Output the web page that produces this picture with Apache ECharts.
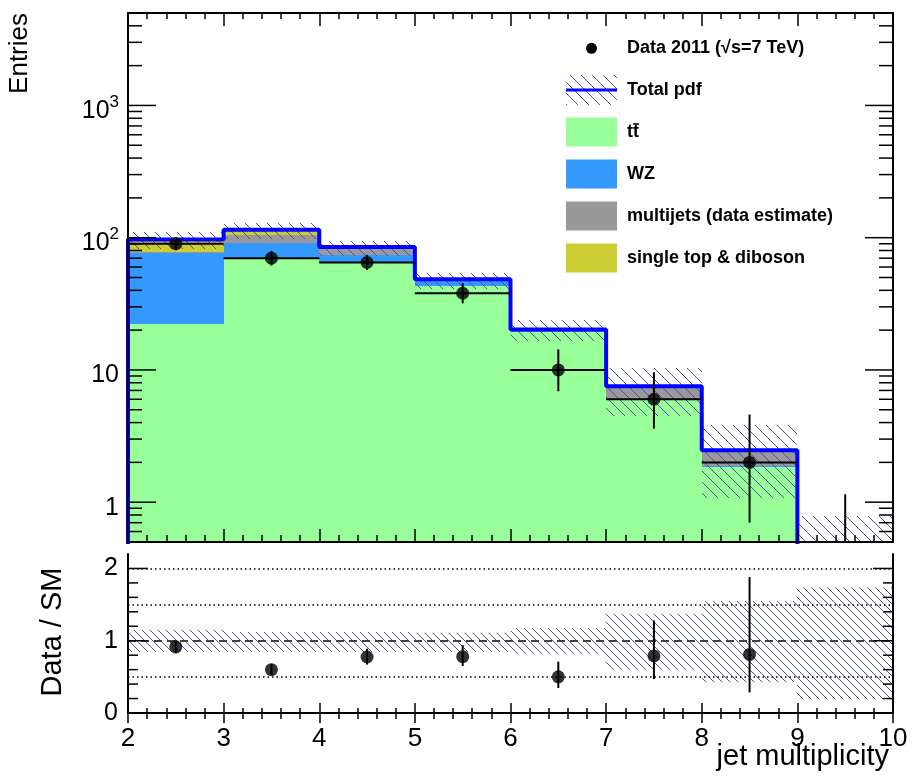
<!DOCTYPE html>
<html><head><meta charset="utf-8">
<script src="https://cdn.jsdelivr.net/npm/echarts@6/dist/echarts.min.js"></script>
<style>html,body{margin:0;padding:0;background:#fff}#c{width:914px;height:779px}</style>
</head><body><div id="c"></div>
<script>
// ---------- data ----------
const binEdges   = [2, 3, 4, 5, 6, 7, 8, 9, 10];
const ttbar      = [22.2, 69.5, 65.5, 42.9, 19.4, 5.97, 1.85, 0.40];
const wz         = [54.4, 21.7, 8.1, 3.9, 0.6, 0.04, 0.02, 0];
const multijets  = [1.2, 13.1, 8.1, 1.0, 0.1, 1.5, 0.6, 0.05];
const singleTop  = [19.0, 10.7, 3.3, 0.7, 0.1, 0.02, 0.0, 0];
const dataCounts = [90, 70, 65, 38, 10, 6, 2, 0];
const dataErrLow = [9.5, 8.4, 8.1, 6.1, 3.1, 2.4, 1.3, 0];
const dataErrHigh= [10.5, 9.4, 9.1, 7.2, 4.3, 3.6, 2.6, 1.15];
const bandUp     = [1.143, 1.115, 1.115, 1.11, 1.18, 1.37, 1.55, 1.74];
const bandDown   = [0.85, 0.85, 0.85, 0.85, 0.82, 0.60, 0.435, 0.20];
const ratio      = [0.915, 0.60, 0.775, 0.78, 0.50, 0.79, 0.81, null];
const ratioErrLow  = [0.09, 0.07, 0.105, 0.13, 0.155, 0.32, 0.525, 0];
const ratioErrHigh = [0.09, 0.08, 0.115, 0.16, 0.21, 0.49, 1.07, 0];
const legendLabels = ['Data 2011 (\u221As=7 TeV)', 'Total pdf', 'tt', 'WZ', 'multijets (data estimate)', 'single top & diboson'];
const xLabel = 'jet multiplicity', yLabelTop = 'Entries', yLabelBottom = 'Data / SM';

// ---------- style ----------
const FONT = '"Liberation Sans", Arial, Helvetica, sans-serif';
const C_TT = '#99ff99', C_WZ = '#3399ff', C_MJ = '#999999', C_ST = '#cccc33', C_LINE = '#0000ff';
const HATCH_COL = '#5050a8';

function hatch(step) {
  const c = document.createElement('canvas');
  c.width = step; c.height = step;
  const g = c.getContext('2d');
  g.strokeStyle = HATCH_COL; g.lineWidth = 1;
  g.beginPath();
  g.moveTo(-2, -2); g.lineTo(step + 2, step + 2);
  g.moveTo(-2, step - 2); g.lineTo(2, step + 2);
  g.moveTo(step - 2, -2); g.lineTo(step + 2, 2);
  g.stroke();
  return {image: c, repeat: 'repeat'};
}
const hatchTop = hatch(11), hatchBot = hatch(8);

const nb = ttbar.length;
const xMin = binEdges[0], xMax = binEdges[nb];
const yTopMin = 0.5, yTopMax = 5000, yBotMin = 0, yBotMax = 2.2;
const total = ttbar.map((v, i) => v + wz[i] + multijets[i] + singleTop[i]);
const centers = ttbar.map((v, i) => (binEdges[i] + binEdges[i + 1]) / 2);

// stacked rectangles
const layers = [ttbar, wz, multijets, singleTop];
const layerRects = layers.map(() => []);
for (let i = 0; i < nb; i++) {
  let base = 0;
  layers.forEach((arr, k) => {
    const lo = base, hi = base + arr[i];
    if (arr[i] > 0) layerRects[k].push([binEdges[i], binEdges[i + 1], Math.max(lo, 1e-3), hi]);
    base = hi;
  });
}
const topBand = total.map((t, i) => [binEdges[i], binEdges[i + 1], Math.max(t * bandDown[i], 1e-3), t * bandUp[i]]);
const botBand = total.map((t, i) => [binEdges[i], binEdges[i + 1], bandDown[i], bandUp[i]]);
const lineData = [[binEdges[0], 1e-3]];
for (let i = 0; i < nb; i++) lineData.push([binEdges[i], total[i]]);
lineData.push([binEdges[nb], total[nb - 1]]);

const dataErr = dataCounts.map((v, i) => [centers[i], v, dataErrLow[i], dataErrHigh[i], binEdges[i], binEdges[i + 1]]);
const dataPts = dataCounts.map((v, i) => v > 0 ? [centers[i], v] : null).filter(Boolean);
const ratioPts = ratio.map((v, i) => v != null ? [centers[i], v] : null).filter(Boolean);
const ratioErr = ratio.map((v, i) => v != null ? [centers[i], v, ratioErrLow[i], ratioErrHigh[i]] : null).filter(Boolean);

// tick lists (axis ticks drawn through the axes' own scale)
const logTicks = [];
[0.1, 1, 10, 100, 1000].forEach(d => { for (let m = 1; m <= 9; m++) { const v = m * d; if (v > yTopMin * 0.999 && v < yTopMax * 1.001) logTicks.push([xMin, v, m === 1 ? 1 : 0]); } });
const linTicks = [];
for (let i = 0; i <= 10; i++) linTicks.push([xMin, i * 0.2, i % 5 === 0 ? 1 : 0]);

function rectRenderer(fill) {
  return function (params, api) {
    const a = api.coord([api.value(0), api.value(3)]);
    const b = api.coord([api.value(1), api.value(2)]);
    const x0 = Math.round(a[0]), x1 = Math.round(b[0]);
    const y0 = Math.round(a[1]), y1 = Math.round(b[1]);
    return {type: 'rect', shape: {x: x0, y: y0, width: x1 - x0, height: y1 - y0}, style: {fill: fill, stroke: null}, silent: true};
  };
}
function tickRenderer(lenMajor, lenMinor) {
  return function (params, api) {
    const v = api.value(1), major = api.value(2) === 1;
    const L = major ? lenMajor : lenMinor;
    const pL = api.coord([xMin, v]), pR = api.coord([xMax, v]);
    const st = {stroke: '#000', lineWidth: 1.5};
    return {type: 'group', children: [
      {type: 'line', shape: {x1: pL[0], y1: pL[1], x2: pL[0] + L, y2: pL[1]}, style: st},
      {type: 'line', shape: {x1: pR[0], y1: pR[1], x2: pR[0] - L, y2: pR[1]}, style: st}
    ]};
  };
}
function errRenderer(withH) {
  return function (params, api) {
    const xc = api.value(0), y = api.value(1), lo = api.value(2), hi = api.value(3);
    const ylo = Math.max(y - lo, 1e-3);
    const p1 = api.coord([xc, y + hi]), p2 = api.coord([xc, ylo]);
    const st = {stroke: '#000', lineWidth: 2};
    const ch = [{type: 'line', shape: {x1: p1[0], y1: p1[1], x2: p2[0], y2: p2[1]}, style: st}];
    if (withH && y > 0) {
      const a = api.coord([api.value(4), y]), b = api.coord([api.value(5), y]);
      ch.push({type: 'line', shape: {x1: a[0], y1: a[1], x2: b[0], y2: b[1]}, style: st});
    }
    return {type: 'group', children: ch};
  };
}

const axisLineStyle = {show: true, lineStyle: {color: '#000', width: 2}};
function xAx(gi, pos, showLabel, major, minor) {
  return {type: 'value', gridIndex: gi, position: pos, min: xMin, max: xMax, interval: 1, z: 10,
    axisLine: axisLineStyle, splitLine: {show: false},
    axisTick: {show: true, inside: true, length: major, lineStyle: {color: '#000', width: 1.5}},
    minorTick: {show: true, splitNumber: 5, length: minor, lineStyle: {color: '#000', width: 1.5}},
    axisLabel: {show: showLabel, color: '#000', fontSize: 26, fontFamily: FONT, margin: 13}};
}
const isDecade = v => Math.abs(Math.log10(v) - Math.round(Math.log10(v))) < 1e-6;

const option = {
  animation: false,
  backgroundColor: '#fff',
  grid: [
    {left: 128, width: 765, top: 13, height: 529, containLabel: false, outerBoundsMode: 'none'},
    {left: 128, width: 765, top: 554, height: 159, containLabel: false, outerBoundsMode: 'none'}
  ],
  xAxis: [xAx(0, 'bottom', false, 13, 7), xAx(0, 'top', false, 13, 6), xAx(1, 'bottom', true, 10, 5), xAx(1, 'top', false, 10, 6)],
  yAxis: [
    {type: 'log', logBase: 10, gridIndex: 0, position: 'left', min: yTopMin, max: yTopMax, z: 10,
      axisLine: axisLineStyle, axisTick: {show: false}, splitLine: {show: false}, minorTick: {show: false},
      axisLabel: {color: '#000', margin: 9, showMinLabel: false, showMaxLabel: false, padding: [6, 0, 0, 0],
        formatter: v => {
          if (!isDecade(v)) return '';
          const e = Math.round(Math.log10(v));
          if (e === 0) return '{b|1}';
          if (e === 1) return '{b|10}';
          return '{b|10}{s|' + e + '}';
        },
        rich: {b: {fontSize: 25, fontFamily: FONT, color: '#000', lineHeight: 30, verticalAlign: 'bottom'},
               s: {fontSize: 17, fontFamily: FONT, color: '#000', lineHeight: 17, verticalAlign: 'top'}}}},
    {type: 'log', logBase: 10, gridIndex: 0, position: 'right', min: yTopMin, max: yTopMax, z: 10,
      axisLine: axisLineStyle, axisTick: {show: false}, splitLine: {show: false}, axisLabel: {show: false}},
    {type: 'value', gridIndex: 1, position: 'left', min: yBotMin, max: yBotMax, interval: 1, z: 10,
      axisLine: axisLineStyle, axisTick: {show: false}, splitLine: {show: false},
      axisLabel: {color: '#000', fontSize: 25, fontFamily: FONT, margin: 10, showMaxLabel: false, padding: [6, 0, 0, 0],
        formatter: v => (Math.abs(v - Math.round(v)) < 1e-6 ? String(Math.round(v)) : '')}},
    {type: 'value', gridIndex: 1, position: 'right', min: yBotMin, max: yBotMax, interval: 1, z: 10,
      axisLine: axisLineStyle, axisTick: {show: false}, splitLine: {show: false}, axisLabel: {show: false}}
  ],
  series: [
    ...[C_TT, C_WZ, C_MJ, C_ST].map((col, k) => ({
      type: 'custom', xAxisIndex: 0, yAxisIndex: 0, z: 2, clip: true, silent: true,
      renderItem: rectRenderer(col), encode: {x: [0, 1], y: [2, 3]}, data: layerRects[k]})),
    {type: 'custom', xAxisIndex: 0, yAxisIndex: 0, z: 3, clip: true, silent: true,
      renderItem: rectRenderer(hatchTop), encode: {x: [0, 1], y: [2, 3]}, data: topBand},
    {type: 'line', xAxisIndex: 0, yAxisIndex: 0, z: 4, step: 'end', symbol: 'none', clip: true, silent: true,
      lineStyle: {color: C_LINE, width: 4}, data: lineData},
    {type: 'custom', xAxisIndex: 0, yAxisIndex: 0, z: 5, clip: true, silent: true,
      renderItem: errRenderer(true), encode: {x: 0, y: 1}, data: dataErr},
    {type: 'scatter', xAxisIndex: 0, yAxisIndex: 0, z: 6, symbol: 'circle', symbolSize: 13, silent: true,
      itemStyle: {color: '#000'}, data: dataPts},
    {type: 'custom', xAxisIndex: 0, yAxisIndex: 0, z: 11, clip: false, silent: true,
      renderItem: tickRenderer(28, 14), encode: {x: 0, y: 1}, data: logTicks},
    // ratio panel
    {type: 'custom', xAxisIndex: 2, yAxisIndex: 2, z: 2, clip: true, silent: true,
      renderItem: rectRenderer(hatchBot), encode: {x: [0, 1], y: [2, 3]}, data: botBand},
    {type: 'custom', xAxisIndex: 2, yAxisIndex: 2, z: 5, clip: true, silent: true,
      renderItem: errRenderer(false), encode: {x: 0, y: 1}, data: ratioErr},
    {type: 'scatter', xAxisIndex: 2, yAxisIndex: 2, z: 6, symbol: 'circle', symbolSize: 13, silent: true,
      itemStyle: {color: '#000'}, data: ratioPts,
      markLine: {silent: true, symbol: 'none', label: {show: false}, animation: false,
        data: [
          {yAxis: 0.5, lineStyle: {type: [1.5, 3], color: '#000', width: 1.5}},
          {yAxis: 1.5, lineStyle: {type: [1.5, 3], color: '#000', width: 1.5}},
          {yAxis: 2.0, lineStyle: {type: [1.5, 3], color: '#000', width: 1.5}},
          {yAxis: 1.0, lineStyle: {type: [8, 5], color: '#444', width: 2}}
        ]}},
    {type: 'custom', xAxisIndex: 2, yAxisIndex: 2, z: 11, clip: false, silent: true,
      renderItem: tickRenderer(20, 10), encode: {x: 0, y: 1}, data: linTicks}
  ],
  graphic: (function () {
    const g = [];
    const txt = (x, y, text, opts) => Object.assign({type: 'text', x: x, y: y, z: 100, silent: true,
      style: Object.assign({text: text, fill: '#000', fontFamily: FONT}, opts.style)}, opts.el || {});
    g.push(txt(20, 13, yLabelTop, {style: {fontSize: 26, align: 'right', verticalAlign: 'middle', textAlign: 'right', textVerticalAlign: 'middle'}, el: {rotation: Math.PI / 2}}));
    g.push(txt(53, 632, yLabelBottom, {style: {fontSize: 29, align: 'center', verticalAlign: 'middle', textAlign: 'center', textVerticalAlign: 'middle'}, el: {rotation: Math.PI / 2}}));
    g.push(txt(889, 771, xLabel, {style: {fontSize: 29, align: 'right', verticalAlign: 'bottom', textAlign: 'right', textVerticalAlign: 'bottom'}}));
    // legend
    const lx = 566, lw = 51, lh = 29, tx = 627;
    const rows = [48.3, 90, 132, 174, 216, 258];
    g.push({type: 'circle', z: 100, silent: true, shape: {cx: 591.5, cy: rows[0], r: 5.5}, style: {fill: '#000'}});
    g.push({type: 'rect', z: 100, silent: true, shape: {x: lx, y: rows[1] - 15, width: lw, height: 30}, style: {fill: hatchTop}});
    g.push({type: 'line', z: 101, silent: true, shape: {x1: lx, y1: rows[1], x2: lx + lw, y2: rows[1]}, style: {stroke: C_LINE, lineWidth: 3}});
    [C_TT, C_WZ, C_MJ, C_ST].forEach((c, k) => g.push({type: 'rect', z: 100, silent: true,
      shape: {x: lx, y: rows[k + 2] - lh / 2, width: lw, height: lh}, style: {fill: c}}));
    legendLabels.forEach((t, k) => g.push(txt(tx, rows[k], t, {style: {fontSize: 18, fontWeight: 'bold', align: 'left', verticalAlign: 'middle', textAlign: 'left', textVerticalAlign: 'middle'}})));
    // bar over the second t of "tt"
    g.push({type: 'line', z: 101, silent: true, shape: {x1: 633, y1: rows[2] - 8, x2: 639, y2: rows[2] - 8}, style: {stroke: '#000', lineWidth: 1.5}});
    return g;
  })()
};
const chart = echarts.init(document.getElementById('c'), null, {renderer: 'canvas'});
chart.setOption(option);
</script></body></html>
